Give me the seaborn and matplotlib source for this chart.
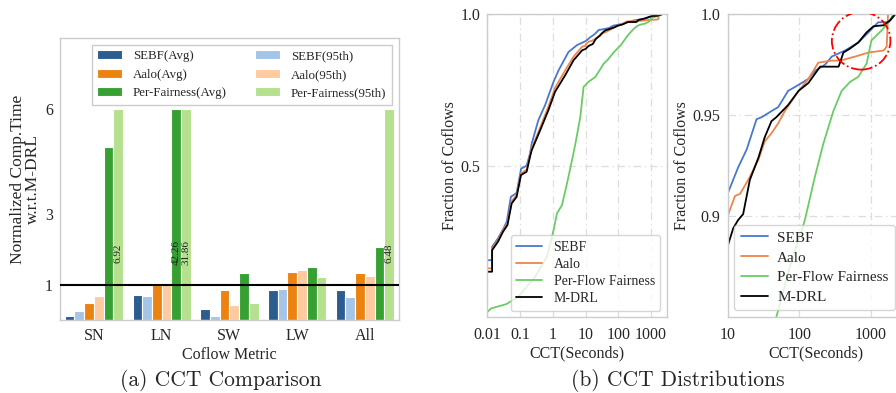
import numpy as np
import pandas as pd
import matplotlib
matplotlib.use("Agg")
import matplotlib.pyplot as plt
from matplotlib.patches import Ellipse
import seaborn as sns

# ---------------- data: (a) CCT comparison ----------------
metrics = ["SN", "LN", "SW", "LW", "All"]
series_names = ["SEBF(Avg)", "SEBF(95th)", "Aalo(Avg)", "Aalo(95th)",
                "Per-Fairness(Avg)", "Per-Fairness(95th)"]
sebf_avg = [0.11, 0.71, 0.31, 0.84, 0.84]
sebf_95 = [0.26, 0.67, 0.11, 0.89, 0.64]
aalo_avg = [0.47, 1.00, 0.86, 1.37, 1.34]
aalo_95 = [0.67, 1.00, 0.42, 1.41, 1.24]
pf_avg = [4.92, 42.26, 1.34, 1.50, 2.07]
pf_95 = [6.92, 31.86, 0.47, 1.21, 6.48]
y_cap = 6.0
bar_colors = ["#2b5d8f", "#a4c4e8", "#ec8310", "#fdcb9f", "#36a032", "#b5e08e"]

# ---------------- data: (b) CCT distributions ----------------
sebf_x = [0.01, 0.0139, 0.0139, 0.021, 0.030, 0.039, 0.052, 0.078, 0.107, 0.158, 0.2, 0.226,
          0.36, 0.58, 1.05, 1.5, 3.0, 5.5, 10, 14, 18.5, 25.4, 30, 41, 51, 70, 98, 135, 167,
          230, 285, 437, 670, 930, 1270, 1770, 2100]
sebf_y = [0.188, 0.188, 0.232, 0.26, 0.29, 0.315, 0.397, 0.41, 0.49, 0.50, 0.54, 0.573,
          0.65, 0.70, 0.777, 0.815, 0.875, 0.898, 0.911, 0.924, 0.933, 0.948, 0.949, 0.952,
          0.954, 0.962, 0.965, 0.968, 0.972, 0.975, 0.979, 0.982, 0.986, 0.991, 0.996,
          0.996, 1.0]

aalo_x = [0.01, 0.0139, 0.0139, 0.021, 0.030, 0.041, 0.055, 0.078, 0.106, 0.158, 0.2, 0.226,
          0.41, 0.73, 1.17, 2.4, 4.3, 7.9, 10, 10.01, 12.7, 14.9, 19.5, 27, 33, 41, 51, 63,
          98, 135, 185, 285, 375, 605, 930, 1510, 1670, 1740, 2200]
aalo_y = [0.161, 0.161, 0.226, 0.254, 0.287, 0.31, 0.382, 0.403, 0.474, 0.487, 0.535, 0.558,
          0.626, 0.695, 0.757, 0.815, 0.86, 0.893, 0.895, 0.90, 0.910, 0.911, 0.918, 0.928,
          0.937, 0.941, 0.946, 0.952, 0.962, 0.968, 0.976, 0.977, 0.977, 0.979, 0.981,
          0.982, 0.984, 1.0, 1.0]

pff_x = [0.01, 0.013, 0.038, 0.087, 0.285, 0.66, 1.05, 1.33, 1.9, 2.7, 3.85, 4.9, 6.9, 8.7,
         12.4, 20, 36, 48, 74, 120, 167, 218, 300, 392, 515, 670, 875, 1020, 1420, 1870, 2200]
pff_y = [0.0175, 0.029, 0.043, 0.067, 0.133, 0.199, 0.287, 0.342, 0.37, 0.441, 0.518, 0.573,
         0.661, 0.76, 0.777, 0.793, 0.837, 0.85, 0.875, 0.898, 0.920, 0.936, 0.952, 0.962,
         0.9665, 0.969, 0.9756, 0.987, 0.992, 0.997, 1.0]

mdrl_x = [0.01, 0.0139, 0.0139, 0.021, 0.030, 0.041, 0.055, 0.078, 0.106, 0.158, 0.2, 0.226,
          0.41, 0.73, 1.17, 2.4, 4.3, 7.9, 10, 12, 14, 16.5, 20.5, 27, 33, 41, 48, 70, 98,
          135, 196, 355, 415, 515, 670, 875, 1090, 1510, 1870, 2200]
mdrl_y = [0.150, 0.150, 0.221, 0.249, 0.282, 0.304, 0.375, 0.397, 0.469, 0.48, 0.529, 0.551,
          0.617, 0.683, 0.744, 0.799, 0.848, 0.881, 0.885, 0.894, 0.898, 0.901, 0.918, 0.929,
          0.939, 0.947, 0.949, 0.955, 0.962, 0.966, 0.974, 0.974, 0.981, 0.983, 0.986,
          0.991, 0.994, 0.9945, 0.997, 1.0]

cdf_labels = ["SEBF", "Aalo", "Per-Flow Fairness", "M-DRL"]
cdf_colors = ["#4878d0", "#ee854a", "#6acc64", "#000000"]

left_ticks = [0.01, 0.1, 1, 10, 100, 1000]
left_ticklabels = ["0.01", "0.1", "1", "10", "100", "1000"]
right_ticks = [10, 100, 1000]
right_ticklabels = ["10", "100", "1000"]

# ---------------- style ----------------
sns.set_style("whitegrid")
plt.rcParams["font.family"] = ["Liberation Serif", "DejaVu Serif"]
plt.rcParams["axes.edgecolor"] = "#cccccc"
plt.rcParams["axes.linewidth"] = 1.0

fig = plt.figure(figsize=(8.96, 3.93), dpi=100)
ax1 = fig.add_axes([0.067, 0.186, 0.378, 0.717])
ax2 = fig.add_axes([0.544, 0.193, 0.200, 0.771])
ax3 = fig.add_axes([0.812, 0.193, 0.198, 0.771])

# ---------------- (a) bars ----------------
all_vals = [sebf_avg, sebf_95, aalo_avg, aalo_95, pf_avg, pf_95]
rows = []
for name, vals in zip(series_names, all_vals):
    for m, v in zip(metrics, vals):
        rows.append({"metric": m, "series": name, "value": v, "shown": min(v, y_cap)})
df = pd.DataFrame(rows)

sns.barplot(data=df, x="metric", y="shown", hue="series", order=metrics,
            hue_order=series_names, palette=bar_colors, saturation=1, width=0.86,
            edgecolor="white", linewidth=0.8, ax=ax1, legend=True)
ax1.grid(False)
ax1.set_ylim(0, 8)
ax1.set_xlim(-0.5, 4.5)
ax1.set_yticks([1, 3, 6])
ax1.set_yticklabels(["1", "3", "6"])
ax1.axhline(1, color="black", lw=1.5, zorder=5)
ax1.set_xlabel("Coflow Metric", fontsize=11.5, labelpad=2)
ax1.set_ylabel("Normalized Comp.Time\nw.r.t.M-DRL", fontsize=12.5, labelpad=3, linespacing=0.92)
ax1.tick_params(axis="both", labelsize=11.5, length=0)
ax1.tick_params(axis="x", pad=6)
ax1.tick_params(axis="y", pad=5)

# value labels on clipped bars
for ci, name in enumerate(series_names):
    cont = ax1.containers[ci]
    vals = all_vals[ci]
    for patch, v in zip(cont.patches, vals):
        if v > y_cap:
            cx = patch.get_x() + patch.get_width() / 2
            ax1.text(cx, 1.9, f"{v:.2f}", rotation=90, ha="center", va="center",
                     fontsize=8, color="#222222", zorder=6)

h, l = ax1.get_legend_handles_labels()
order = [0, 2, 4, 1, 3, 5]
ax1.legend([h[i] for i in order], [l[i] for i in order], ncol=2, loc="upper right",
           fontsize=9.3, frameon=True, edgecolor="#cccccc", framealpha=1,
           borderaxespad=0.5, columnspacing=2.2, handlelength=1.9, handletextpad=0.85,
           labelspacing=0.5, fancybox=False, borderpad=0.45)

# ---------------- (b) CDFs ----------------
series_xy = [(sebf_x, sebf_y), (aalo_x, aalo_y), (pff_x, pff_y), (mdrl_x, mdrl_y)]
for ax in (ax2, ax3):
    for (xs, ys), lab, col in zip(series_xy, cdf_labels, cdf_colors):
        sns.lineplot(x=xs, y=ys, ax=ax, color=col, label=lab, lw=1.3,
                     estimator=None, sort=False)
    ax.set_xscale("log")
    ax.minorticks_off()
    ax.grid(True, which="major", linestyle=(0, (6, 3, 1, 3)), color="#dddddd", lw=0.9)
    ax.tick_params(axis="both", labelsize=11.5, length=0)
    ax.tick_params(axis="x", pad=7)
    ax.tick_params(axis="y", pad=5)
    ax.set_xlabel("CCT(Seconds)", fontsize=11.5, labelpad=2)
    ax.set_ylabel("Fraction of Coflows", fontsize=11.5, labelpad=2)

ax2.set_xlim(0.01, 3000)
ax2.set_ylim(0, 1.0)
ax2.set_xticks(left_ticks)
ax2.set_xticklabels(left_ticklabels)
ax2.set_yticks([0.5, 1.0])
ax2.set_yticklabels(["0.5", "1.0"])
ax2.legend(loc="lower right", fontsize=10, frameon=True, edgecolor="#cccccc",
           framealpha=0.8, borderaxespad=0.45, handlelength=1.9, labelspacing=0.3)

ax3.set_xlim(10, 3000)
ax3.set_ylim(0.85, 1.0)
ax3.set_xticks(right_ticks)
ax3.set_xticklabels(right_ticklabels)
ax3.set_yticks([0.9, 0.95, 1.0])
ax3.set_yticklabels(["0.9", "0.95", "1.0"])
ax3.legend(loc="lower left", fontsize=11, frameon=True, edgecolor="#cccccc",
           framealpha=0.8, borderaxespad=0.45, handlelength=1.8, handletextpad=0.6,
           labelspacing=0.4)

ell = Ellipse((0.753, 0.912), 0.33, 0.19, transform=ax3.transAxes, fill=False,
              edgecolor="red", linestyle="-.", lw=1.3, zorder=6)
ax3.add_patch(ell)

# ---------------- captions ----------------
fig.text(0.246, 0.031, "(a) CCT Comparison", ha="center", va="center", fontsize=15.5,
         family=["cmr10", "DejaVu Serif"])
fig.text(0.757, 0.031, "(b) CCT Distributions", ha="center", va="center", fontsize=15.5,
         family=["cmr10", "DejaVu Serif"])

fig.savefig("out.png", dpi=100)
